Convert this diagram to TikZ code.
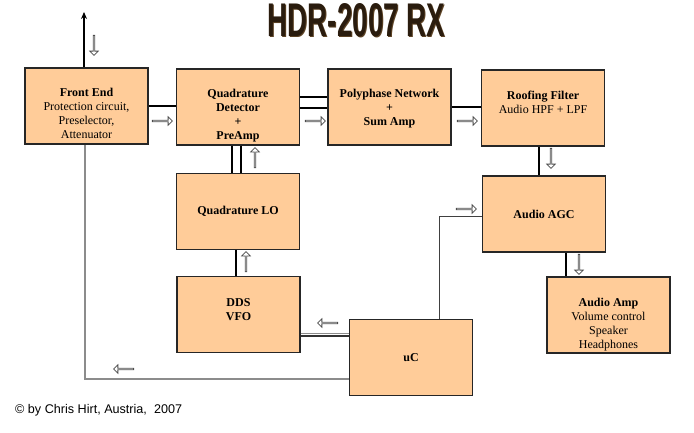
\documentclass[tikz,border=0pt]{standalone}
\usepackage{fontspec}
\usepackage{graphicx}
\setmainfont{Liberation Serif}[BoldFont={Liberation Serif Bold}]
\setsansfont{Liberation Sans}
\usetikzlibrary{positioning,shapes.arrows,arrows.meta}
\definecolor{peach}{HTML}{FFCC99}
\definecolor{titledark}{HTML}{2A1C0E}
\definecolor{titlebrown}{HTML}{5C4224}

\begin{document}
\begin{tikzpicture}[
        x=1pt, y=-1pt,
        block/.style={draw=black!85, fill=peach, line width=1.3pt, minimum width=123pt, minimum height=76pt, inner sep=0pt, font=\fontsize{12}{14}\selectfont\bfseries},
        blocktext/.style={align=center, inner sep=0pt, font=\fontsize{12}{14}\selectfont},
        hollow/.style={draw=black!70, fill=white, single arrow, line width=0.8pt, minimum height=20pt, minimum width=8.5pt, single arrow head extend=2pt, inner sep=0pt},
        bus/.style={draw, line width=1.6pt},
        ctrl/.style={draw=black!75, line width=0.7pt},
        feed/.style={draw=black!45, line width=1.3pt},
        vfobus/.style={draw=black!45, line width=1pt},
        title/.style={inner sep=0pt, font=\sffamily\bfseries},
    ]
    \useasboundingbox (0,0) rectangle (694,432);

    % title and credit
    \node[title, text=titlebrown](titleshade) at (357.5,21) {\resizebox{177pt}{33pt}{HDR-2007 RX}};
    \node[title, text=titledark](title) at (356.5,20) {\resizebox{177pt}{33pt}{HDR-2007 RX}};
    \node[anchor=west, inner sep=0pt, font=\sffamily\fontsize{12.6}{14}\selectfont](credit) at (15,410) {© by Chris Hirt, Austria,\ \ 2007};

    % blocks
    \node[block](fe) at (86.5,106) {};
    \node[blocktext, below=21pt of fe.north](fetext) {\textbf{Front End}\\Protection circuit,\\Preselector,\\Attenuator};
    \node[block](qd) at (238,107) {};
    \node[blocktext, below=21pt of qd.north](qdtext) {\textbf{Quadrature}\\\textbf{Detector}\\\textbf{+}\\\textbf{PreAmp}};
    \node[block](pp) at (389.5,107) {};
    \node[blocktext, below=21pt of pp.north](pptext) {\textbf{Polyphase Network}\\\textbf{+}\\\textbf{Sum Amp}};
    \node[block](rf) at (543,108) {};
    \node[blocktext, below=21pt of rf.north](rftext) {\textbf{Roofing Filter}\\Audio HPF + LPF};
    \node[block](qlo) at (238,211.5) {Quadrature LO};
    \node[block](agc) at (544,214) {Audio AGC};
    \node[block](dds) at (238.5,314.5) {};
    \node[blocktext, below=22pt of dds.north](ddstext) {\textbf{DDS}\\\textbf{VFO}};
    \node[block](aa) at (608.5,315) {};
    \node[blocktext, below=22pt of aa.north](aatext) {\textbf{Audio Amp}\\Volume control\\Speaker\\Headphones};
    \node[block](uc) at (411,357.5) {uC};

    % connections
    \coordinate (antenna) at (84,12);
    \draw[line width=1.4pt, -{Stealth[length=7pt,width=6pt]}] (fe.north -| antenna) -- (antenna);
    \draw[bus] (fe.east) -- (fe.east -| qd.west);
    \draw[bus] ([yshift=10pt]qd.east) -- ([yshift=10pt]qd.east -| pp.west);
    \draw[bus] ([yshift=-1pt]qd.east) -- ([yshift=-1pt]qd.east -| pp.west);
    \draw[bus] (pp.east) -- (pp.east -| rf.west);
    \draw[bus] ([xshift=-4pt]rf.south) -- ([xshift=-4pt]rf.south |- agc.north);
    \draw[bus] ([xshift=-6pt]qd.south) -- ([xshift=-6pt]qd.south |- qlo.north);
    \draw[bus] ([xshift=3pt]qd.south) -- ([xshift=3pt]qd.south |- qlo.north);
    \draw[bus] ([xshift=-2pt]qlo.south) -- ([xshift=-2pt]qlo.south |- dds.north);
    \draw[bus] ([xshift=22pt]agc.south) -- ([xshift=22pt]agc.south |- aa.north);
    \draw[ctrl] ([xshift=28pt]uc.north) |- ([yshift=-2pt]agc.west);
    \draw[feed] ([yshift=-21.5pt]uc.west) -| ([xshift=-1.5pt]fe.south);
    \draw[vfobus] ([yshift=-18.5pt]dds.east) -- ([yshift=-18.5pt]dds.east -| uc.west);
    \draw[bus, draw=black!80] ([yshift=-21.5pt]dds.east) -- ([yshift=-21.5pt]dds.east -| uc.west);

    % signal flow arrows
    \node[hollow, shape border rotate=270](antdown) at (94,45) {};
    \node[hollow](feflow) at (162,121) {};
    \node[hollow](qdflow) at (315,121) {};
    \node[hollow](ppflow) at (467,121) {};
    \node[hollow, shape border rotate=270](rfflow) at (551,158) {};
    \node[hollow, shape border rotate=270](agcflow) at (579,264) {};
    \node[hollow, shape border rotate=90](loflow) at (255,158) {};
    \node[hollow, shape border rotate=90](ddsflow) at (246,262) {};
    \node[hollow](ucagcflow) at (466,209) {};
    \node[hollow, shape border rotate=180](ucddsflow) at (328,323) {};
    \node[hollow, shape border rotate=180](ucfeflow) at (124,369) {};
\end{tikzpicture}
\end{document}
